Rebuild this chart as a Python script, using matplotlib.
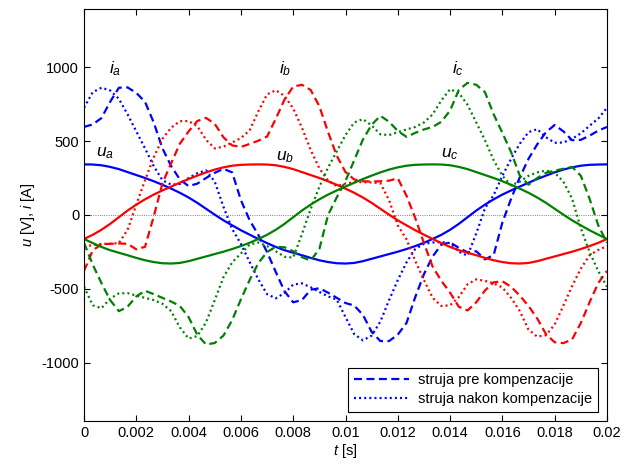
# =========================================================
# plot.py - napon i struja po fazama, pre i nakon kompenzacije
# =========================================================

import numpy as np
import matplotlib
matplotlib.use("Agg")
import matplotlib.pyplot as plt


# =========================================================
# DATA (one period, step 1/3 ms)
# =========================================================
t = np.linspace(0, 0.02, 61)

u_a = [342, 341, 336, 325, 310, 290, 270, 250, 228, 204,
       178, 150, 118, 82, 42, 2, -36, -70, -103, -133,
       -162, -190, -216, -238, -255, -272, -290, -306, -318, -326,
       -328, -324, -312, -296, -280, -264, -248, -230, -210, -188,
       -162, -134, -100, -60, -15, 30, 70, 106, 138, 166,
       192, 218, 243, 266, 288, 307, 322, 333, 339, 341, 342]
u_b = [-162, -134, -100, -60, -15, 30, 70, 106, 138, 166,
       192, 218, 243, 266, 288, 307, 322, 333, 339, 341,
       342, 341, 336, 325, 310, 290, 270, 250, 228, 204,
       178, 150, 118, 82, 42, 2, -36, -70, -103, -133,
       -162, -190, -216, -238, -255, -272, -290, -306, -318, -326,
       -328, -324, -312, -296, -280, -264, -248, -230, -210, -188, -162]
u_c = [-162, -190, -216, -238, -255, -272, -290, -306, -318, -326,
       -328, -324, -312, -296, -280, -264, -248, -230, -210, -188,
       -162, -134, -100, -60, -15, 30, 70, 106, 138, 166,
       192, 218, 243, 266, 288, 307, 322, 333, 339, 341,
       342, 341, 336, 325, 310, 290, 270, 250, 228, 204,
       178, 150, 118, 82, 42, 2, -36, -70, -103, -133, -162]

# struja pre kompenzacije
i_a_pre = [595, 612, 655, 765, 860, 862, 825, 765, 625, 450,
           330, 240, 195, 212, 250, 285, 312, 288, 100, -35,
           -135, -250, -385, -515, -590, -575, -505, -495, -525, -560,
           -595, -612, -675, -790, -852, -852, -808, -730, -555, -400,
           -280, -200, -185, -222, -252, -245, -300, -270, -50, 110,
           255, 380, 478, 560, 608, 565, 505, 508, 536, 570, 595]
i_b_pre = [-378, -240, -197, -195, -192, -195, -232, -215, -10, 215,
           350, 482, 565, 635, 656, 616, 525, 470, 460, 480,
           502, 530, 650, 780, 868, 880, 845, 735, 560, 400,
           290, 240, 228, 226, 228, 232, 248, 130, -20, -190,
           -350, -445, -525, -620, -645, -590, -510, -455, -448, -485,
           -545, -615, -700, -805, -860, -866, -840, -730, -590, -460, -378]
i_c_pre = [-188, -335, -460, -575, -650, -620, -550, -512, -535, -560,
           -585, -615, -690, -810, -875, -865, -815, -710, -570, -440,
           -325, -250, -215, -218, -245, -285, -308, -230, 0, 120,
           230, 370, 510, 610, 670, 630, 568, 528, 555, 578,
           595, 630, 706, 845, 893, 880, 830, 680, 555, 425,
           265, 205, 250, 285, 300, 312, 325, 265, 110, -70, -188]

# struja nakon kompenzacije
i_a_post = [725, 830, 860, 842, 785, 680, 565, 450, 330, 235,
            205, 210, 250, 282, 302, 225, 55, -95, -195, -318,
            -435, -535, -563, -527, -470, -462, -488, -520, -550, -572,
            -690, -805, -847, -815, -720, -575, -440, -320, -230, -195,
            -186, -183, -190, -248, -275, -125, 45, 135, 265, 380,
            482, 560, 580, 525, 488, 490, 515, 552, 603, 652, 725]
i_b_post = [-210, -205, -195, -195, -190, -100, 70, 235, 390, 515,
            590, 634, 635, 600, 508, 450, 462, 490, 520, 572,
            700, 815, 843, 805, 720, 590, 440, 315, 232, 195,
            212, 222, 222, 220, 215, 100, -70, -165, -310, -440,
            -560, -615, -610, -555, -468, -435, -445, -462, -490, -560,
            -650, -775, -822, -812, -740, -612, -480, -362, -272, -236, -210]
i_c_post = [-485, -610, -630, -565, -530, -528, -545, -560, -575, -600,
            -650, -760, -835, -818, -726, -575, -420, -320, -260, -200,
            -186, -210, -245, -282, -288, -130, 40, 190, 320, 430,
            540, 625, 648, 605, 545, 540, 560, 578, 595, 625,
            680, 775, 850, 825, 745, 625, 505, 370, 265, 200,
            225, 265, 288, 300, 285, 225, 110, -90, -250, -380, -485]

phase_colors = ["#0000ff", "#ff0000", "#008000"]
x_ticks = [0, 0.002, 0.004, 0.006, 0.008, 0.01, 0.012, 0.014, 0.016, 0.018, 0.02]
x_tick_labels = ["0", "0.002", "0.004", "0.006", "0.008", "0.01",
                 "0.012", "0.014", "0.016", "0.018", "0.02"]
y_ticks = [-1000, -500, 0, 500, 1000]


# =========================================================
# STYLE
# =========================================================
plt.rcParams["font.family"] = ["Liberation Sans", "DejaVu Sans"]
plt.rcParams["mathtext.fontset"] = "custom"
plt.rcParams["mathtext.rm"] = "Liberation Sans"
plt.rcParams["mathtext.it"] = "Liberation Sans:italic"
plt.rcParams["font.size"] = 10.5
plt.rcParams["axes.unicode_minus"] = False


# =========================================================
# PLOT
# =========================================================
fig = plt.figure(figsize=(6.35, 4.65), dpi=100)
ax = fig.add_axes([0.1323, 0.0953, 0.8236, 0.8847])

ax.axhline(0, color="#555555", lw=0.6, ls=":", zorder=1)

lw = 1.6
dash = (0, (3.6, 2.0))
dots = (0, (0.9, 1.4))
pre = [i_a_pre, i_b_pre, i_c_pre]
post = [i_a_post, i_b_post, i_c_post]
volt = [u_a, u_b, u_c]
for col, ip, iq, u in zip(phase_colors, pre, post, volt):
    ax.plot(t, ip, color=col, lw=lw, ls=dash)
    ax.plot(t, iq, color=col, lw=lw, ls=dots)
    ax.plot(t, u, color=col, lw=lw, ls="-")

# labels next to the curves
ax.text(0.0012, 960, r"$i_a$", fontsize=12.5, ha="center")
ax.text(0.0077, 960, r"$i_b$", fontsize=12.5, ha="center")
ax.text(0.0143, 960, r"$i_c$", fontsize=12.5, ha="center")
ax.text(0.0008, 400, r"$u_a$", fontsize=12.5, ha="center")
ax.text(0.0077, 370, r"$u_b$", fontsize=12.5, ha="center")
ax.text(0.0140, 390, r"$u_c$", fontsize=12.5, ha="center")

# legend only shows the phase a line styles
h_pre, = ax.plot([], [], color="#0000ff", lw=lw, ls=dash)
h_post, = ax.plot([], [], color="#0000ff", lw=lw, ls=dots)
leg = ax.legend([h_pre, h_post],
                ["struja pre kompenzacije", "struja nakon kompenzacije"],
                loc="lower right", bbox_to_anchor=(0.983, 0.022),
                borderaxespad=0, fancybox=False, edgecolor="black",
                framealpha=1, handlelength=3.8, handletextpad=0.6,
                fontsize=10.5, borderpad=0.4, labelspacing=0.3)
leg.get_frame().set_linewidth(0.8)

ax.set_xlim(0, 0.02)
ax.set_ylim(-1390, 1390)
ax.set_xticks(x_ticks)
ax.set_xticklabels(x_tick_labels)
ax.set_yticks(y_ticks)
ax.tick_params(direction="in", top=True, right=True, length=4, width=0.8,
               labelsize=10.5)
for s in ax.spines.values():
    s.set_linewidth(0.8)

ax.set_xlabel(r"$t$ [s]", fontsize=10.5, labelpad=2)
ax.set_ylabel(r"$u$ [V], $i$ [A]", fontsize=10.5, labelpad=3)

fig.savefig("out.png", dpi=100)
